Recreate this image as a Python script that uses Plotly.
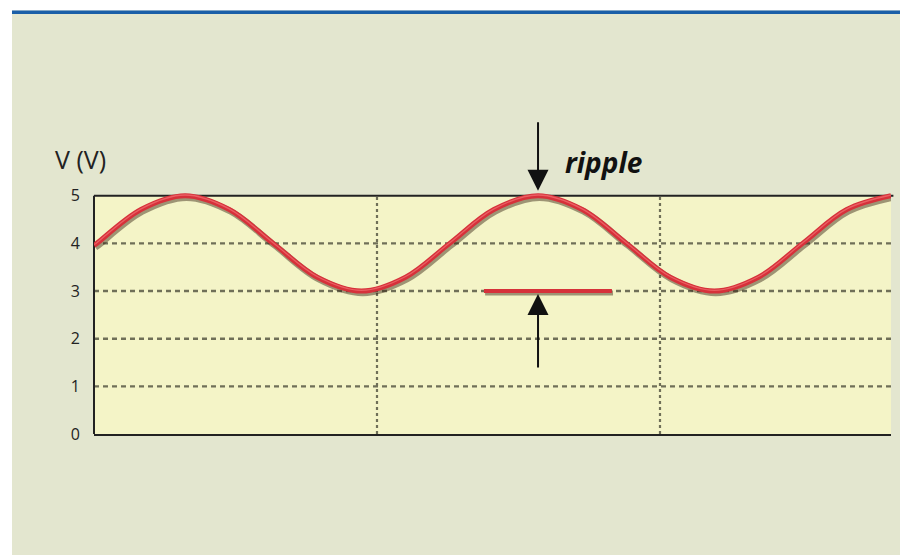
import plotly.graph_objects as go

# Ripple waveform: time in grid divisions, voltage in volts
time_div = [0.000, 0.010, 0.166, 0.322, 0.478, 0.633, 0.789, 0.945, 1.101, 1.257,
            1.413, 1.569, 1.725, 1.881, 2.036, 2.192, 2.348, 2.504, 2.660, 2.816]
voltage_v = [3.96, 4.00, 4.71, 5.00, 4.71, 4.00, 3.29, 3.00, 3.29, 4.00,
             4.71, 5.00, 4.71, 4.00, 3.29, 3.00, 3.29, 4.00, 4.71, 5.00]

# Ripple marker: minimum-level bar and the peak it is measured against
ripple_bar_t = [1.378, 1.830]
ripple_min_v = 3.0
ripple_peak_t = 1.569
ripple_peak_v = 5.0

y_ticks = [0, 1, 2, 3, 4, 5]
y_grid = [1, 2, 3, 4]
x_grid = [1, 2]

W, H = 900, 555
L, R, T, B = 94, 891, 196, 434          # plot frame in pixels (y=5 at T, y=0 at B)
V_TOP = 5.0
V_HEAD = 0.12                            # headroom so the peaks are not clipped
PX_PER_V = (B - T) / V_TOP
T_AX = T - V_HEAD * PX_PER_V             # top of the plotting area incl. headroom
X_MAX = (R - L) / 283.0


def px_x(p):
    return (p - L) / (R - L)


def px_y(p):
    return (B - p) / (B - T_AX)


RED = "#d6313a"
INK = "#222222"
GRID = "#6f6f58"
fig = go.Figure()

# soft drop shadow under the curve
fig.add_trace(go.Scatter(
    x=[t + 0.005 for t in time_div], y=[v - 0.04 for v in voltage_v],
    mode="lines", line=dict(color="rgba(50,30,15,0.45)", width=6.5, shape="spline", smoothing=1.0),
    hoverinfo="skip", showlegend=False))
fig.add_trace(go.Scatter(
    x=time_div, y=voltage_v, mode="lines",
    line=dict(color=RED, width=5, shape="spline", smoothing=1.0),
    showlegend=False, name="V"))
fig.add_trace(go.Scatter(
    x=time_div, y=[v + 0.015 for v in voltage_v], mode="lines",
    line=dict(color="rgba(255,140,140,0.5)", width=1.3, shape="spline", smoothing=1.0),
    hoverinfo="skip", showlegend=False))

# ripple minimum bar
fig.add_trace(go.Scatter(
    x=[t + 0.004 for t in ripple_bar_t], y=[ripple_min_v - 0.04] * 2, mode="lines",
    line=dict(color="rgba(50,30,15,0.45)", width=5), hoverinfo="skip", showlegend=False))
fig.add_trace(go.Scatter(
    x=ripple_bar_t, y=[ripple_min_v] * 2, mode="lines",
    line=dict(color=RED, width=4), showlegend=False))

shapes = [
    # white page strips and blue header rule
    dict(type="rect", xref="paper", yref="paper", x0=px_x(-5), x1=px_x(12),
         y0=px_y(W), y1=px_y(-5), fillcolor="white", line_width=0, layer="below"),
    dict(type="rect", xref="paper", yref="paper", x0=px_x(-5), x1=px_x(W + 5),
         y0=px_y(11), y1=px_y(-5), fillcolor="white", line_width=0, layer="below"),
    dict(type="rect", xref="paper", yref="paper", x0=px_x(12), x1=px_x(W + 5),
         y0=px_y(14.5), y1=px_y(11), fillcolor="#1b5fa8", line_width=0, layer="below"),
    # headroom strip above the frame keeps the page colour
    dict(type="rect", xref="paper", yref="y", x0=-0.01, x1=1.01, y0=V_TOP, y1=V_TOP + V_HEAD + 0.05,
         fillcolor="#e3e6cf", line_width=0, layer="below"),
]
# dashed divisions
for g in y_grid:
    shapes.append(dict(type="line", xref="paper", yref="y", x0=0, x1=1, y0=g, y1=g,
                       line=dict(color=GRID, width=2.4, dash="5px,4px"), layer="below"))
for g in x_grid:
    shapes.append(dict(type="line", xref="x", yref="y", x0=g, x1=g, y0=0, y1=V_TOP,
                       line=dict(color=GRID, width=2.2, dash="3px,3px"), layer="below"))
# frame: top and left edges
shapes += [
    dict(type="line", xref="paper", yref="y", x0=0, x1=1.003, y0=V_TOP, y1=V_TOP,
         line=dict(color=INK, width=2), layer="below"),
    dict(type="line", xref="paper", yref="y", x0=0, x1=0, y0=0, y1=V_TOP,
         line=dict(color=INK, width=2), layer="below"),
]

fig.update_layout(
    width=W, height=H,
    margin=dict(l=L, r=W - R, t=T_AX, b=H - B),
    paper_bgcolor="#e3e6cf",
    plot_bgcolor="#f4f4c7",
    font=dict(family="Open Sans, Noto Sans, sans-serif", color=INK),
    xaxis=dict(
        range=[0, X_MAX], showticklabels=False, showgrid=False,
        showline=True, linecolor=INK, linewidth=2, mirror=False,
        zeroline=False, ticks="", fixedrange=True),
    yaxis=dict(
        range=[0, V_TOP + V_HEAD], tickvals=y_ticks, ticktext=[str(v) for v in y_ticks],
        tickfont=dict(size=16, color=INK), ticklabelstandoff=13,
        showgrid=False, showline=False, zeroline=False, ticks="", fixedrange=True),
    shapes=shapes,
    annotations=[
        dict(text="V (V)", xref="paper", yref="paper", x=px_x(53), y=px_y(159),
             xanchor="left", yanchor="middle", showarrow=False,
             font=dict(size=25, color=INK)),
        dict(text="<b><i>ripple</i></b>", xref="paper", yref="paper",
             x=px_x(603), y=px_y(162), xanchor="center", yanchor="middle", showarrow=False,
             font=dict(size=28, color="#111111")),
        # arrow pointing down onto the peak
        dict(text="", xref="x", yref="paper", x=ripple_peak_t, y=px_y(191), ax=0, ay=-70,
             showarrow=True, arrowhead=2, arrowsize=2.1, arrowwidth=2, arrowcolor="#111111"),
        # arrow pointing up to the minimum bar
        dict(text="", x=ripple_peak_t, y=ripple_min_v - 0.06, ax=0, ay=75,
             showarrow=True, arrowhead=2, arrowsize=2.1, arrowwidth=2, arrowcolor="#111111"),
    ],
)

fig.write_html("out.html")
